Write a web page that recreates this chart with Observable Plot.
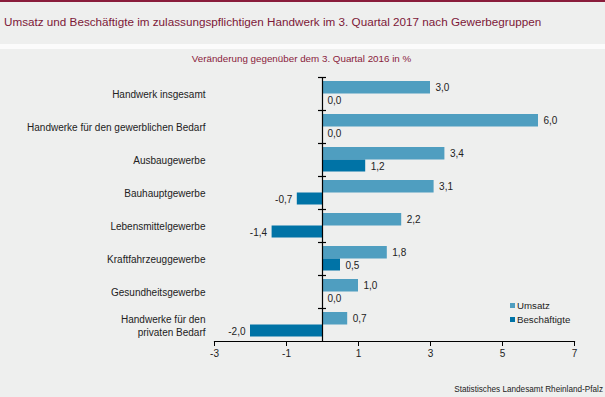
<!DOCTYPE html>
<html>
<head>
<meta charset="utf-8">
<script src="https://cdn.jsdelivr.net/npm/d3@7"></script>
<script src="https://cdn.jsdelivr.net/npm/@observablehq/plot@0.6"></script>
<style>
  html, body { margin: 0; padding: 0; }
  body { width: 605px; height: 397px; position: relative; overflow: hidden; background: #eeefee; font-family: Arial, "Liberation Sans", sans-serif; }
  #topbar { position: absolute; left: 0; top: 0; width: 605px; height: 2px; background: #8a1c3b; }
  #titleband { position: absolute; left: 0; top: 2px; width: 605px; height: 42px; background: #eeefee; }
  #stripe { position: absolute; left: 0; top: 44px; width: 605px; height: 5px; background: #fbfbfb; }
  #title { position: absolute; left: 4px; top: 15px; font-size: 11.7px; color: #7d1838; white-space: nowrap; }
  #chart { position: absolute; left: 0; top: 49px; }
  #subtitle { position: absolute; left: 0; width: 605px; top: 53px; text-align: center; font-size: 9.8px; color: #8a1c3b; padding-right: 2px; box-sizing: border-box; }
  #caption { position: absolute; right: 2px; top: 385px; font-size: 8.2px; color: #222; white-space: nowrap; }
  .leg { position: absolute; font-size: 9.7px; color: #222; white-space: nowrap; }
  .sw { position: absolute; width: 5px; height: 5px; }
</style>
</head>
<body>
<div id="topbar"></div>
<div id="titleband"></div>
<div id="stripe"></div>
<div id="title">Umsatz und Beschäftigte im zulassungspflichtigen Handwerk im 3. Quartal 2017 nach Gewerbegruppen</div>
<div id="chart"></div>
<div id="subtitle">Veränderung gegenüber dem 3. Quartal 2016 in %</div>
<div class="sw" style="left:510px;top:303px;background:#4f9ec0"></div>
<div class="leg" style="left:517px;top:300px">Umsatz</div>
<div class="sw" style="left:510px;top:317px;background:#0073a6"></div>
<div class="leg" style="left:517px;top:314px">Beschäftigte</div>
<div id="caption">Statistisches Landesamt Rheinland-Pfalz</div>
<script>
const categories = [
  "Handwerk insgesamt",
  "Handwerke für den gewerblichen Bedarf",
  "Ausbaugewerbe",
  "Bauhauptgewerbe",
  "Lebensmittelgewerbe",
  "Kraftfahrzeuggewerbe",
  "Gesundheitsgewerbe",
  "Handwerke für den privaten Bedarf"
];
const umsatz = [3.0, 6.0, 3.4, 3.1, 2.2, 1.8, 1.0, 0.7];
const beschaeftigte = [0.0, 0.0, 1.2, -0.7, -1.4, 0.5, 0.0, -2.0];
const xTicks = [-3, -1, 1, 3, 5, 7];
const seriesNames = ["Umsatz", "Beschäftigte"];
const seriesColors = ["#4f9ec0", "#0073a6"];

const fmt = v => v.toFixed(1).replace(".", ",");
const labelFmt = c => c === "Handwerke für den privaten Bedarf" ? "Handwerke für den\nprivaten Bedarf" : c;

const dU = categories.map((c, i) => ({cat: c, value: umsatz[i]}));
const dB = categories.map((c, i) => ({cat: c, value: beschaeftigte[i]}));

const band = 33;
const half = band / 2;

const chart = Plot.plot({
  width: 605,
  height: 348,
  marginTop: 28,
  marginBottom: 56,
  marginLeft: 214,
  marginRight: 31,
  style: {background: "transparent", fontFamily: "Arial, 'Liberation Sans', sans-serif", color: "#222"},
  x: {domain: [-3, 7]},
  y: {domain: categories, padding: 0},
  marks: [
    Plot.barX(dU, {y: "cat", x: "value", fill: seriesColors[0], insetTop: 4, insetBottom: half}),
    Plot.barX(dB, {y: "cat", x: "value", fill: seriesColors[1], insetTop: half, insetBottom: 4.5}),
    Plot.ruleX([0], {stroke: "#000", strokeWidth: 1.2}),
    Plot.ruleY(categories, {y: d => d, x1: 0, x2: 0, insetLeft: -4, insetRight: -4, dy: -half, stroke: "#000", strokeWidth: 1.2}),
    Plot.frame({anchor: "bottom", stroke: "#000", strokeWidth: 1.2}),
    Plot.axisX({ticks: xTicks, tickFormat: d => String(d), tickSize: 5, tickPadding: 3, fontSize: 10, label: null, stroke: "#000", fill: "#222"}),
    Plot.axisY({tickSize: 0, tickPadding: 9, fontSize: 10, label: null, tickFormat: labelFmt, lineHeight: 1.3, fill: "#222"}),
    Plot.text(dU, {y: "cat", x: "value", text: d => fmt(d.value), dx: 5, dy: -6.5, textAnchor: "start", fontSize: 10, fill: "#222"}),
    Plot.text(dB.filter(d => d.value >= 0), {y: "cat", x: "value", text: d => fmt(d.value), dx: 5, dy: 6.5, textAnchor: "start", fontSize: 10, fill: "#222"}),
    Plot.text(dB.filter(d => d.value < 0), {y: "cat", x: "value", text: d => fmt(d.value), dx: -5, dy: 6.5, textAnchor: "end", fontSize: 10, fill: "#222"})
  ]
});
document.getElementById("chart").appendChild(chart);
</script>
</body>
</html>
